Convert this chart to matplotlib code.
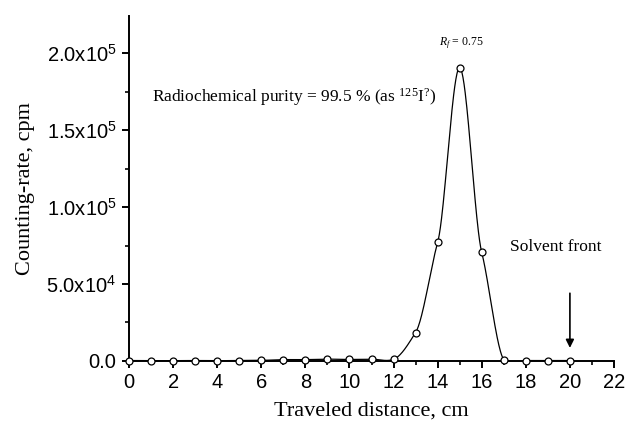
import numpy as np
import matplotlib
matplotlib.use('Agg')
import matplotlib.pyplot as plt
from matplotlib.ticker import MultipleLocator, FuncFormatter

## data
distance = [0, 1, 2, 3, 4, 5, 6, 7, 8, 9, 10, 11, 12, 13, 14, 15, 16, 17, 18, 19, 20]
counts = [300, 200, 200, 300, 200, 300, 400, 900, 900, 1200, 1000, 1200, 1100,
          18500, 77000, 190500, 70500, 800, 300, 300, 300]

plt.rcParams['font.family'] = ['Liberation Sans', 'DejaVu Sans']
plt.rcParams['mathtext.fontset'] = 'custom'
plt.rcParams['mathtext.rm'] = 'Liberation Serif'
plt.rcParams['mathtext.it'] = 'Liberation Serif:italic'


## cardinal spline through the points (tension c)
def smooth(x, y, n=40, c=0.6):
        x = np.asarray(x, float)
        y = np.asarray(y, float)
        m = np.zeros_like(y)
        m[1:-1] = c * (y[2:] - y[:-2]) / 2
        m[0] = y[1] - y[0]
        m[-1] = y[-1] - y[-2]
        xs, ys = [], []
        for i in range(len(x) - 1):
                t = np.linspace(0, 1, n, endpoint=False)
                h00 = 2*t**3 - 3*t**2 + 1
                h10 = t**3 - 2*t**2 + t
                h01 = -2*t**3 + 3*t**2
                h11 = t**3 - t**2
                ys.extend(h00*y[i] + h10*m[i] + h01*y[i+1] + h11*m[i+1])
                xs.extend(x[i] + t*(x[i+1] - x[i]))
        xs.append(x[-1])
        ys.append(y[-1])
        return np.array(xs), np.array(ys)


fig = plt.figure(figsize=(6.3, 4.23), dpi=100)
ax = fig.add_axes([0.2048, 0.1466, 0.7698, 0.8154])

xs, ys = smooth(distance, counts)
ax.plot(xs, ys, '-', color='black', linewidth=0.9)
ax.plot(distance, counts, 'o', markersize=5, markerfacecolor='white',
        markeredgecolor='black', markeredgewidth=0.9, clip_on=False, zorder=3)

ax.set_xlim(0, 22)
ax.set_ylim(0, 2.24e5)
ax.xaxis.set_major_locator(MultipleLocator(2))
ax.xaxis.set_minor_locator(MultipleLocator(1))
ax.yaxis.set_major_locator(MultipleLocator(5e4))
ax.yaxis.set_minor_locator(MultipleLocator(2.5e4))


def yfmt(v, pos):
        if v <= 0:
                return '0.0'
        e = int(np.floor(np.log10(v)))
        return r'%.1fx10$^{\mathregular{%d}}$' % (v / 10**e, e)


ax.yaxis.set_major_formatter(FuncFormatter(yfmt))

for s in ['top', 'right']:
        ax.spines[s].set_visible(False)
for s in ['left', 'bottom']:
        ax.spines[s].set_linewidth(1.4)
ax.tick_params(which='major', direction='out', length=5, width=1.4, labelsize=14.5)
ax.tick_params(axis='y', which='major', pad=4)
ax.tick_params(which='minor', direction='out', length=3, width=1.2)

ax.set_xlabel('Traveled distance, cm', fontsize=16, family='Liberation Serif', labelpad=7)
ax.set_ylabel('Counting-rate, cpm', fontsize=16, family='Liberation Serif', labelpad=8)

ax.text(1.04, 1.714e5, r'Radiochemical purity = 99.5 % (as $^{125}$I$^{?}$)',
        fontsize=12.5, family='Liberation Serif', va='center', ha='left')
ax.text(15.07, 2.065e5, r'$R_{f}$ = 0.75', fontsize=8.5, family='Liberation Serif',
        ha='center', va='center')
ax.text(17.3, 7.4e4, 'Solvent front', fontsize=12.5, family='Liberation Serif',
        ha='left', va='center')
ax.annotate('', xy=(20, 8.5e3), xytext=(20, 4.4e4),
            arrowprops=dict(arrowstyle='-|>', color='black', lw=1.2,
                            mutation_scale=12, shrinkA=0, shrinkB=0))

plt.savefig('out.png', dpi=100)
plt.close()
